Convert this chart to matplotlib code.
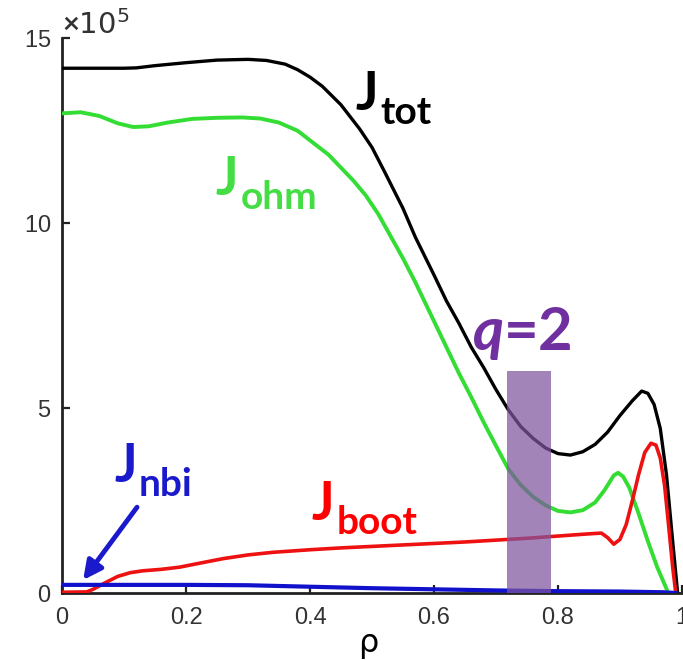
import numpy as np
import matplotlib
matplotlib.use("Agg")
import matplotlib.pyplot as plt
from matplotlib.ticker import ScalarFormatter

plt.rcParams['mathtext.fontset'] = 'custom'
plt.rcParams['mathtext.rm'] = 'Lato:bold'
plt.rcParams['mathtext.bf'] = 'Lato:bold'
plt.rcParams['mathtext.it'] = 'Lato:italic:bold'

# current density profiles vs normalised radius rho, in units of 1e5 A/m^2
rho_tot = [0.00, 0.05, 0.10, 0.12, 0.15, 0.20, 0.25, 0.30, 0.33, 0.36, 0.38, 0.40,
           0.42, 0.45, 0.48, 0.50, 0.52, 0.55, 0.57, 0.60, 0.62, 0.64, 0.66, 0.68,
           0.70, 0.72, 0.74, 0.76, 0.78, 0.80, 0.82, 0.84, 0.86, 0.88, 0.90, 0.92,
           0.935, 0.945, 0.955, 0.965, 0.975, 0.985, 0.993]
j_tot = [14.19, 14.19, 14.19, 14.20, 14.26, 14.34, 14.41, 14.43, 14.40, 14.30, 14.15, 13.95,
         13.70, 13.20, 12.55, 12.05, 11.40, 10.40, 9.62, 8.60, 7.90, 7.30, 6.65, 6.10,
         5.50, 4.95, 4.50, 4.18, 3.92, 3.77, 3.73, 3.82, 4.02, 4.35, 4.80, 5.20,
         5.46, 5.40, 5.10, 4.45, 3.20, 1.40, 0.0]

rho_ohm = [0.00, 0.03, 0.06, 0.09, 0.115, 0.14, 0.17, 0.21, 0.25, 0.29, 0.32, 0.35,
           0.38, 0.40, 0.43, 0.45, 0.47, 0.49, 0.51, 0.53, 0.55, 0.57, 0.60, 0.62,
           0.64, 0.66, 0.68, 0.70, 0.72, 0.74, 0.76, 0.78, 0.80, 0.82, 0.84, 0.86,
           0.875, 0.89, 0.897, 0.905, 0.915, 0.93, 0.945, 0.96, 0.978]
j_ohm = [12.97, 13.00, 12.90, 12.70, 12.60, 12.62, 12.72, 12.82, 12.85, 12.86, 12.83, 12.72,
         12.50, 12.24, 11.85, 11.50, 11.15, 10.75, 10.25, 9.65, 9.05, 8.40, 7.35, 6.65,
         5.95, 5.30, 4.62, 3.98, 3.35, 2.92, 2.60, 2.37, 2.22, 2.18, 2.24, 2.45,
         2.78, 3.18, 3.25, 3.15, 2.85, 2.15, 1.40, 0.70, 0.0]

rho_boot = [0.00, 0.04, 0.05, 0.07, 0.09, 0.11, 0.13, 0.16, 0.19, 0.22, 0.26, 0.30,
            0.34, 0.40, 0.45, 0.50, 0.55, 0.60, 0.65, 0.70, 0.75, 0.80, 0.85, 0.87,
            0.88, 0.89, 0.90, 0.91, 0.92, 0.93, 0.94, 0.95, 0.958, 0.965, 0.972, 0.978,
            0.985, 0.99]
j_boot = [0.02, 0.03, 0.10, 0.28, 0.45, 0.55, 0.60, 0.64, 0.70, 0.80, 0.93, 1.03,
          1.10, 1.17, 1.22, 1.26, 1.30, 1.34, 1.38, 1.43, 1.48, 1.54, 1.60, 1.62,
          1.50, 1.32, 1.45, 1.85, 2.50, 3.20, 3.80, 4.05, 4.00, 3.65, 2.90, 1.90,
          0.70, 0.0]

rho_nbi = [0.00, 0.10, 0.20, 0.30, 0.35, 0.40, 0.50, 0.60, 0.70, 0.80, 0.90, 0.97, 0.99]
j_nbi = [0.22, 0.22, 0.22, 0.21, 0.19, 0.17, 0.13, 0.10, 0.07, 0.05, 0.04, 0.02, 0.0]

# q=2 surface location
q2_lo, q2_hi, q2_top = 0.718, 0.789, 6.0

scale = 1e5

fig = plt.figure(figsize=(6.83, 6.60), dpi=100)
ax = fig.add_axes([0.0908, 0.1015, 0.9077, 0.8405])

ax.plot(rho_tot, np.array(j_tot) * scale, color='black', lw=2.4, zorder=3)
ax.plot(rho_ohm, np.array(j_ohm) * scale, color='#33dd33', lw=2.8, zorder=3)
ax.plot(rho_boot, np.array(j_boot) * scale, color='#ee1111', lw=2.6, zorder=3)
ax.plot(rho_nbi, np.array(j_nbi) * scale, color='#1111cc', lw=3.0, zorder=3)

ax.fill_between([q2_lo, q2_hi], 0, q2_top * scale, color='#7f559f', alpha=0.72,
                lw=0, zorder=4)

ax.set_xlim(0, 1)
ax.set_ylim(0, 15 * scale)
ax.set_xticks([0, 0.2, 0.4, 0.6, 0.8, 1])
ax.set_xticklabels(['0', '0.2', '0.4', '0.6', '0.8', '1'])
ax.set_yticks(np.array([0, 5, 10, 15]) * scale)

fmt = ScalarFormatter(useMathText=True)
fmt.set_powerlimits((5, 5))
ax.yaxis.set_major_formatter(fmt)
ax.yaxis.get_offset_text().set_fontsize(21)
ax.yaxis.get_offset_text().set_color('#333333')

for side in ['top', 'right']:
    ax.spines[side].set_visible(False)
for side in ['left', 'bottom']:
    ax.spines[side].set_linewidth(2.0)
    ax.spines[side].set_color('#222222')

ax.tick_params(direction='in', length=6, width=1.6, colors='#222222',
               labelsize=17, labelcolor='#333333')
ax.tick_params(axis='x', pad=10)
ax.tick_params(axis='y', pad=8)
for lab in ax.get_xticklabels() + ax.get_yticklabels():
    lab.set_family('Liberation Sans')

ax.set_xlabel('ρ', fontsize=23, family='DejaVu Sans')
ax.xaxis.set_label_coords(0.494, -0.107)
ax.xaxis.label.set_verticalalignment('baseline')


def curve_label(x, y, sub, color):
    # big J with a large subscript set just below its baseline
    ax.text(x, y * scale, 'J', color=color, fontsize=38, fontweight='bold',
            family='Lato', va='baseline')
    ax.annotate(sub, xy=(x, y * scale), xytext=(18, -10), textcoords='offset points',
                color=color, fontsize=28, fontweight='bold', family='Lato',
                va='baseline')


curve_label(0.473, 13.05, 'tot', 'black')
curve_label(0.248, 10.76, 'ohm', '#44dd44')
curve_label(0.403, 1.97, 'boot', '#ff0000')
curve_label(0.084, 3.0, 'nbi', '#1a1acc')

ax.text(0.661, 6.57 * scale, r'$q$=2', color='#7030a0', fontsize=43,
        fontweight='bold', family='Lato', va='baseline')

ax.annotate('', xy=(0.034, 0.35 * scale), xytext=(0.121, 2.32 * scale),
            arrowprops=dict(arrowstyle='-|>', color='#1a1acc', lw=3.5,
                            mutation_scale=28, shrinkA=0, shrinkB=0))

fig.savefig('out.png', dpi=100)
